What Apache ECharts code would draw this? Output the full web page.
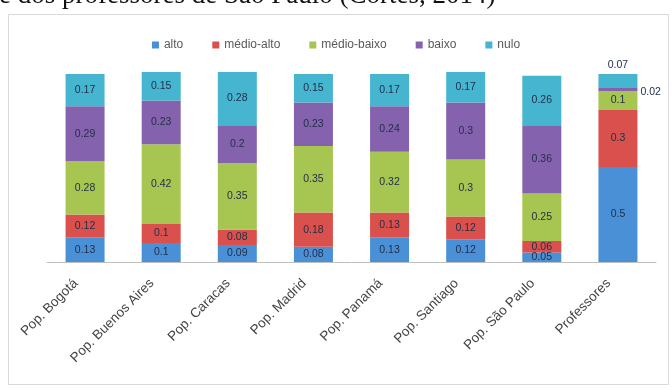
<!DOCTYPE html>
<html>
<head>
<meta charset="utf-8">
<script src="https://cdn.jsdelivr.net/npm/echarts@6/dist/echarts.min.js"></script>
<style>
  html, body { margin: 0; padding: 0; background: #fff; }
  #chart { width: 672px; height: 388px; }
</style>
</head>
<body>
<div id="chart"></div>
<script>
// Population groups and teachers
const categories = ['Pop. Bogotá', 'Pop. Buenos Aires', 'Pop. Caracas', 'Pop. Madrid',
                    'Pop. Panamá', 'Pop. Santiago', 'Pop. São Paulo', 'Professores'];

// Share of each level per group
const alto       = [0.13, 0.10, 0.09, 0.08, 0.13, 0.12, 0.05, 0.50];
const medioAlto  = [0.12, 0.10, 0.08, 0.18, 0.13, 0.12, 0.06, 0.30];
const medioBaixo = [0.28, 0.42, 0.35, 0.35, 0.32, 0.30, 0.25, 0.10];
const baixo      = [0.29, 0.23, 0.20, 0.23, 0.24, 0.30, 0.36, 0.02];
const nulo       = [0.17, 0.15, 0.28, 0.15, 0.17, 0.17, 0.26, 0.07];

const seriesNames = ['alto', 'médio-alto', 'médio-baixo', 'baixo', 'nulo'];
const seriesData  = [alto, medioAlto, medioBaixo, baixo, nulo];
const colors = ['#4a90d6', '#d9504c', '#a6c651', '#8462ad', '#46b5d0'];

const chart = echarts.init(document.getElementById('chart'));

// Thin segments in the last column get their labels moved outside the bar
function buildData(values, seriesIndex) {
  return values.map(function (v, i) {
    if (i === categories.length - 1 && seriesIndex === 3) {
      return { value: v, label: { position: 'right', offset: [-2, 3] } };
    }
    if (i === categories.length - 1 && seriesIndex === 4) {
      return { value: v, label: { position: 'top', offset: [0, 2] } };
    }
    return v;
  });
}

const series = seriesNames.map(function (name, k) {
  return {
    name: name,
    type: 'bar',
    stack: 'total',
    barWidth: 39,
    data: buildData(seriesData[k], k),
    itemStyle: { color: colors[k] },
    label: {
      show: true,
      position: 'inside',
      fontSize: 10.5,
      fontFamily: 'Liberation Sans, Arial, sans-serif',
      color: '#23304a'
    }
  };
});

chart.setOption({
  animation: false,
  backgroundColor: '#ffffff',
  color: colors,
  graphic: [
    {
      type: 'text',
      left: -1,
      top: -18,
      style: {
        text: 'e dos professores de São Paulo (Cortes, 2014)',
        font: '27px "Liberation Serif", "Times New Roman", serif',
        fill: '#111'
      }
    },
    {
      type: 'rect',
      shape: { x: 8.5, y: 14.5, width: 660, height: 370 },
      style: { fill: 'none', stroke: '#d9d9d9', lineWidth: 1 },
      z: -1
    }
  ],
  legend: {
    top: 34,
    left: 'center',
    itemWidth: 7,
    itemHeight: 7,
    itemGap: 29,
    icon: 'rect',
    textStyle: {
      fontSize: 12,
      color: '#595959',
      fontFamily: 'Liberation Sans, Arial, sans-serif'
    },
    data: seriesNames
  },
  grid: { left: 47, right: 16, top: 72, bottom: 126 },
  xAxis: {
    type: 'category',
    data: categories,
    axisLine: { lineStyle: { color: '#bfbfbf' } },
    axisTick: { show: false },
    axisLabel: {
      rotate: 45,
      interval: 0,
      margin: 10,
      padding: [0, 13, 0, 0],
      fontSize: 13.5,
      color: '#444',
      fontFamily: 'Liberation Sans, Arial, sans-serif'
    }
  },
  yAxis: {
    type: 'value',
    min: 0,
    max: 1,
    show: false,
    splitLine: { show: false }
  },
  series: series
});
</script>
</body>
</html>
